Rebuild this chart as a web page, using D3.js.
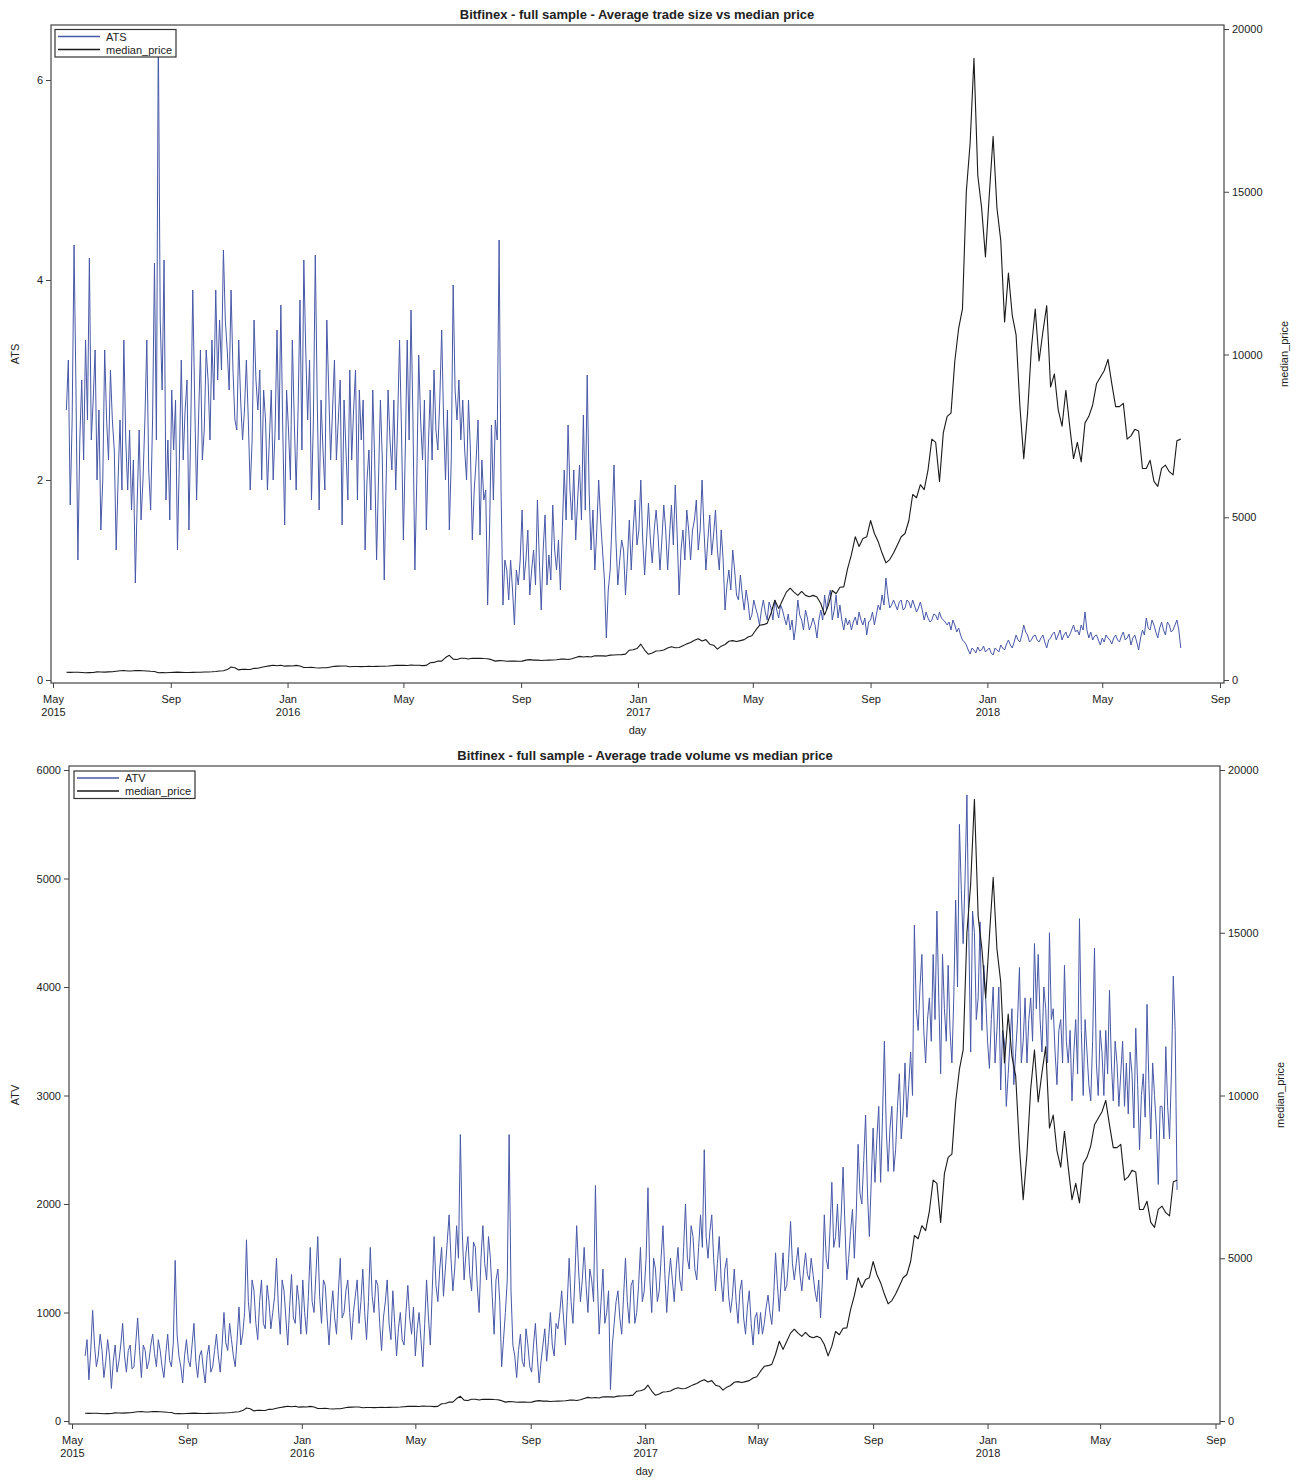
<!DOCTYPE html>
<html><head><meta charset="utf-8">
<script src="https://cdn.jsdelivr.net/npm/d3@7"></script>
<style>
body{margin:0;background:#fff}
svg{display:block}
text{font-family:"Liberation Sans",Arial,sans-serif;fill:#222}
</style>
</head><body>
<svg id="c" width="1298" height="1480"></svg>
<script>
// ---- data ----
const startDate = "2015-05-15";
const tradeStepDays = 2;   // ATS / ATV sampled every 2nd day
const priceStepDays = 4;   // median price sampled every 4th day

const ats = [
 2.7,3.2,1.75,2.6,4.35,2.9,1.2,2.4,3.0,2.2,3.4,2.6,4.22,2.4,2.8,3.3,2.0,2.7,1.5,2.0,
 3.3,2.6,2.2,3.1,2.6,2.3,1.3,2.0,2.6,1.9,3.4,2.4,1.9,2.5,1.7,2.2,0.97,1.8,2.5,1.6,
 2.0,2.6,3.4,2.1,1.7,2.6,4.17,2.4,6.5,3.6,2.9,4.2,1.8,2.4,1.6,2.9,2.3,2.8,1.3,2.2,
 3.2,2.2,2.7,3.0,1.5,2.6,3.9,2.8,1.8,2.6,3.3,2.2,2.5,3.3,3.0,2.4,3.4,2.8,3.9,3.0,
 3.6,3.1,4.3,3.6,3.3,2.9,3.9,3.1,2.6,2.5,3.4,2.8,2.4,2.7,3.2,2.6,1.9,2.4,3.6,3.0,
 2.7,3.1,2.0,2.9,2.6,1.9,2.4,2.9,2.0,2.5,3.5,2.4,3.75,2.5,1.55,2.9,2.5,2.0,3.4,2.6,
 1.9,2.7,3.8,2.3,4.2,3.3,2.6,3.2,1.8,2.6,4.25,2.8,1.7,2.8,2.3,1.9,3.6,2.9,2.2,2.7,
 3.2,2.2,2.6,3.0,1.55,2.8,2.3,1.8,3.1,2.2,2.7,3.1,1.8,2.9,2.4,2.8,1.3,2.0,2.3,1.7,
 2.9,2.2,1.2,2.0,2.8,2.2,1.0,2.0,2.9,2.4,2.1,2.8,1.9,2.6,3.4,2.5,1.4,2.3,3.4,2.4,
 3.7,2.6,1.1,2.0,3.25,2.6,2.2,2.8,1.5,2.3,2.9,2.2,3.1,2.5,2.3,2.8,3.5,2.6,2.0,2.7,
 1.5,2.2,3.95,2.9,2.6,3.0,2.4,2.8,2.3,2.0,2.8,2.3,1.4,1.9,2.2,2.6,1.45,2.2,1.8,1.9,
 0.75,1.5,2.55,1.8,2.6,2.4,4.4,1.9,0.75,1.2,1.1,0.8,1.2,0.9,0.55,1.1,0.95,1.2,1.7,1.0,
 1.2,1.5,0.85,1.1,1.3,0.95,1.8,1.2,0.7,1.3,1.65,0.95,1.25,1.0,1.75,1.3,1.1,1.4,0.9,1.5,
 2.1,1.6,2.55,1.9,1.6,2.1,1.4,1.8,2.15,1.6,2.65,1.7,3.05,1.9,1.3,1.7,1.1,1.5,2.0,1.6,
 1.3,1.0,0.42,0.9,1.1,1.6,2.15,1.4,0.95,1.2,1.4,1.3,0.85,1.2,1.6,1.1,1.5,1.8,1.35,1.5,
 2.0,1.4,1.05,1.4,1.77,1.4,1.17,1.5,1.7,1.45,1.1,1.4,1.75,1.5,1.1,1.45,1.75,1.35,1.95,1.45,
 0.85,1.3,1.5,1.2,1.7,1.5,1.2,1.5,1.6,1.8,1.3,1.5,2.0,1.5,1.1,1.4,1.65,1.25,1.45,1.7,
 1.3,1.1,1.5,1.2,0.7,0.95,1.1,0.9,1.3,1.1,0.85,0.8,1.05,0.85,0.7,0.9,0.78,0.6,0.65,0.8,
 0.72,0.65,0.55,0.7,0.8,0.68,0.6,0.78,0.72,0.6,0.8,0.7,0.62,0.75,0.7,0.62,0.55,0.66,0.5,0.6,
 0.4,0.55,0.8,0.65,0.6,0.5,0.7,0.62,0.5,0.55,0.62,0.55,0.42,0.6,0.7,0.6,0.85,0.7,0.82,0.9,
 0.6,0.7,0.85,0.62,0.75,0.6,0.5,0.62,0.55,0.6,0.5,0.58,0.63,0.55,0.68,0.6,0.55,0.62,0.45,0.58,
 0.6,0.68,0.55,0.65,0.75,0.7,0.85,0.75,1.02,0.85,0.72,0.75,0.8,0.75,0.7,0.78,0.8,0.7,0.72,0.8,
 0.78,0.72,0.8,0.74,0.68,0.72,0.78,0.7,0.6,0.68,0.62,0.58,0.6,0.66,0.65,0.6,0.68,0.62,0.6,0.58,
 0.55,0.58,0.5,0.6,0.55,0.48,0.52,0.45,0.4,0.38,0.35,0.3,0.26,0.32,0.3,0.27,0.33,0.29,0.3,0.34,
 0.28,0.3,0.32,0.27,0.25,0.32,0.3,0.28,0.35,0.32,0.3,0.36,0.4,0.35,0.32,0.38,0.45,0.4,0.38,0.45,
 0.55,0.48,0.45,0.38,0.4,0.44,0.45,0.4,0.38,0.42,0.45,0.38,0.32,0.4,0.42,0.46,0.48,0.4,0.45,0.5,
 0.4,0.45,0.48,0.42,0.45,0.5,0.55,0.48,0.5,0.45,0.55,0.5,0.68,0.5,0.42,0.48,0.4,0.44,0.45,0.4,
 0.35,0.42,0.38,0.45,0.42,0.4,0.36,0.42,0.45,0.4,0.38,0.44,0.48,0.4,0.42,0.46,0.35,0.42,0.45,0.38,
 0.3,0.42,0.5,0.45,0.62,0.52,0.5,0.6,0.55,0.48,0.42,0.52,0.58,0.5,0.45,0.58,0.55,0.48,0.5,0.55,0.6,0.5,0.32
];

const atv = [
 600,750,380,650,1020,700,500,600,800,650,400,550,750,600,300,550,700,450,550,700,
 900,600,450,650,700,480,500,720,950,650,400,700,650,480,550,700,800,620,500,750,
 650,500,400,620,800,560,500,720,1480,800,600,500,350,600,750,560,500,700,900,550,
 400,600,650,480,350,600,700,450,500,650,800,600,450,700,1000,720,650,900,750,600,
 500,750,1050,700,800,1000,1670,1100,900,1300,1200,900,750,1100,1300,900,850,1250,1100,850,
 1000,1150,1500,1050,800,1300,1200,950,700,1050,1350,950,900,1250,1100,800,1300,1000,800,1150,
 1600,1100,1000,1350,1700,1150,900,1300,1250,950,700,1000,1200,950,800,1200,1500,950,1000,1200,
 1300,1000,750,1000,1150,1300,900,1100,1400,1000,750,1100,1600,1150,1000,1300,1250,900,650,950,
 1100,1300,900,750,1200,900,600,850,1000,750,700,1000,1250,950,800,1050,600,850,1000,750,
 500,900,1300,950,700,1200,1700,1250,1100,1400,1600,1150,1400,1650,1900,1500,1200,1400,1800,1500,
 2640,1750,1300,1550,1700,1350,1200,1650,1600,1250,1000,1500,1800,1450,1300,1700,1500,1150,800,1300,
 1400,1100,500,750,1000,1300,2640,1200,700,600,400,650,800,550,500,850,700,500,450,700,
 900,600,350,550,700,850,550,750,1000,700,600,900,850,1000,1200,950,700,1100,1500,1100,
 900,1300,1800,1400,1100,1300,1600,1250,1000,1400,1300,1100,2170,1300,800,1100,1400,900,1000,1200,
 290,700,900,1100,1200,950,800,1150,1500,1100,900,1250,1300,900,1000,1250,1600,1100,1200,1500,
 2150,1300,1000,1500,1400,1100,1200,1500,1800,1350,1000,1300,1500,1300,1100,1400,1600,1300,1200,1600,
 2000,1500,1400,1800,1700,1400,1300,1600,1900,1600,2500,1700,1500,1750,1900,1500,1200,1450,1700,1300,
 1100,1400,1500,1150,1000,1150,1400,1100,900,1200,1300,950,800,1050,1200,900,700,950,1000,800,
 1000,800,900,1050,1160,1000,890,1150,1550,1250,1010,1300,1550,1200,1250,1500,1840,1450,1300,1450,
 1600,1350,1200,1400,1550,1350,1300,1500,1350,1200,1100,1300,950,1300,1900,1500,1400,1750,2200,1600,
 1700,2000,1600,1900,2340,1800,1300,1500,1750,1950,1500,1900,2550,2100,2000,2400,2820,2100,1700,2200,
 2700,2200,2600,2900,2200,2800,3500,2700,2300,2700,2900,2300,2500,2900,3200,2600,2850,3300,2800,3100,
 3400,3000,4570,3800,3600,4000,4300,3600,3300,3700,3900,3500,4300,3700,4700,3900,3200,4300,3800,3500,
 4200,3600,3300,3900,4800,4000,5500,4900,4400,5000,5770,4500,3400,4700,4500,3700,3900,4600,3600,4200,
 3900,3500,3250,3700,4000,3300,3600,4000,3050,3600,3500,2900,3200,3500,3800,3100,3400,3700,4180,3300,
 3500,3900,3300,3700,3900,3500,4400,3800,4300,3700,3400,4000,3800,3300,4500,3700,3800,3400,3100,3600,
 3700,3300,4200,3500,3300,3600,2950,3400,3700,3200,4630,3600,3000,3700,3400,3100,2950,3500,4360,3300,
 3000,3600,3400,3000,3600,3200,3970,3300,2950,3500,3300,2900,3200,3500,2900,3300,2830,3400,3200,2700,
 3620,3100,2500,3000,3200,2800,3840,3100,2600,3300,3000,2700,2180,2900,2900,2600,3450,2900,2600,3200,4100,3600,2130
];

const medianPrice = [
 237,233,240,237,230,225,228,230,250,245,
 242,250,255,270,285,290,278,277,292,288,
 282,278,268,262,225,230,225,230,235,242,
 235,230,232,234,238,237,246,245,252,262,
 275,285,320,400,375,310,330,325,323,358,
 362,390,415,435,455,438,455,425,433,430,
 448,430,385,385,392,378,370,375,378,400,
 420,425,432,430,405,413,415,410,415,418,
 415,420,421,422,428,440,450,455,450,447,
 460,455,455,443,450,530,540,585,580,690,
 760,640,630,670,670,645,670,665,670,660,
 655,625,580,595,590,575,582,580,575,580,
 610,625,612,610,598,605,610,613,620,640,
 645,630,655,690,725,705,720,705,745,740,
 740,735,765,770,775,780,795,915,930,965,
 1100,920,790,830,890,900,920,980,1020,990,
 1000,1050,1110,1150,1220,1270,1200,1240,1100,1070,
 950,1040,1090,1190,1210,1180,1210,1240,1320,1360,
 1530,1680,1700,1740,2050,2450,2200,2450,2700,2820,
 2700,2600,2720,2600,2560,2600,2550,2350,2000,2300,
 2750,2650,2850,2860,3420,3850,4400,4100,4350,4400,
 4900,4500,4250,3900,3600,3700,3900,4150,4400,4500,
 4900,5700,5600,6000,5850,6450,7400,7300,6100,7600,
 8100,8200,9800,10800,11400,15000,16500,19100,15500,14500,
 13000,14900,16700,14500,13500,11000,12500,11200,10600,8400,
 6800,8200,10200,11400,9800,10700,11500,9000,9400,8300,
 7800,8900,7800,6800,7300,6700,7900,8100,8450,9100,
 9300,9500,9850,9100,8400,8400,8500,7400,7500,7700,
 7650,6500,6500,6750,6100,5950,6500,6600,6400,6300,
 7350,7400
];

const xTickDates = ["2015-05-01","2015-09-01","2016-01-01","2016-05-01","2016-09-01",
  "2017-01-01","2017-05-01","2017-09-01","2018-01-01","2018-05-01","2018-09-01"];
const atsTicks = [0,2,4,6];
const atvTicks = [0,1000,2000,3000,4000,5000,6000];
const priceTicks = [0,5000,10000,15000,20000];

// ---- drawing ----
const parse = d3.utcParse("%Y-%m-%d");
const t0 = parse(startDate);
const dateAt = step => (d, i) => d3.utcDay.offset(t0, i * step);
const tickDates = xTickDates.map(parse);
const svg = d3.select("#c");
const BLUE = "#4858a8", BLACK = "#1a1a1a", FRAME = "#444";

function panel(cfg) {
  const g = svg.append("g");
  const f = cfg.frame;
  const x = d3.scaleUtc().domain([parse("2015-05-01"), parse("2018-09-01")]).range(cfg.xRange);
  const yL = d3.scaleLinear().domain(cfg.leftDomain).range(cfg.yRange);
  const yR = d3.scaleLinear().domain([0, 20000]).range(cfg.yRangeR);

  g.append("rect").attr("x", f.l).attr("y", f.t).attr("width", f.r - f.l).attr("height", f.b - f.t)
    .attr("fill", "none").attr("stroke", FRAME).attr("stroke-width", 1.2);

  const fmtMonth = d3.utcFormat("%b");
  const xa = g.append("g").attr("transform", `translate(0,${f.b})`)
    .call(d3.axisBottom(x).tickValues(tickDates).tickSize(5).tickPadding(7).tickFormat(fmtMonth));
  xa.selectAll("text").each(function(d, i) {
    if (i === 0 || d.getUTCMonth() === 0) {
      d3.select(this).append("tspan").attr("x", 0).attr("dy", "1.2em").text(d.getUTCFullYear());
    }
  });
  const yla = g.append("g").attr("transform", `translate(${f.l},0)`)
    .call(d3.axisLeft(yL).tickValues(cfg.leftTicks).tickSize(5).tickPadding(3).tickFormat(d3.format("d")));
  const yra = g.append("g").attr("transform", `translate(${f.r},0)`)
    .call(d3.axisRight(yR).tickValues(priceTicks).tickSize(5).tickPadding(3).tickFormat(d3.format("d")));
  [xa, yla, yra].forEach(a => {
    a.select(".domain").remove();
    a.selectAll(".tick line").attr("stroke", FRAME);
    a.selectAll("text").attr("font-size", 11).attr("fill", "#222")
      .attr("font-family", '"Liberation Sans",Arial,sans-serif');
  });

  const tx = dateAt(tradeStepDays), px = dateAt(priceStepDays);
  const lineL = d3.line().x((d, i) => x(tx(d, i))).y(d => yL(d));
  const lineR = d3.line().x((d, i) => x(px(d, i))).y(d => yR(d));
  g.append("path").datum(cfg.series).attr("d", lineL).attr("fill", "none")
    .attr("stroke", BLUE).attr("stroke-width", 1).attr("stroke-linejoin", "round");
  g.append("path").datum(medianPrice).attr("d", lineR).attr("fill", "none")
    .attr("stroke", BLACK).attr("stroke-width", 1.1).attr("stroke-linejoin", "round");

  g.append("text").attr("x", cfg.titleX).attr("y", f.t - 6).attr("text-anchor", "middle")
    .attr("font-size", 13).attr("font-weight", "bold").attr("fill", "#111").text(cfg.title);
  g.append("text").attr("transform", `translate(19,${(f.t + f.b) / 2}) rotate(-90)`)
    .attr("text-anchor", "middle").attr("font-size", 11).text(cfg.leftLabel);
  g.append("text").attr("transform", `translate(${cfg.rightLabelX},${(f.t + f.b) / 2}) rotate(-90)`)
    .attr("text-anchor", "middle").attr("font-size", 11).text("median_price");
  g.append("text").attr("x", (f.l + f.r) / 2).attr("y", f.b + 51).attr("text-anchor", "middle")
    .attr("font-size", 11).text("day");

  const L = cfg.legend;
  g.append("rect").attr("x", L.x).attr("y", L.y).attr("width", 121).attr("height", 27.5)
    .attr("fill", "#fff").attr("stroke", "#333").attr("stroke-width", 1.2);
  [[cfg.leftLabel, BLUE], ["median_price", BLACK]].forEach(([t, c], k) => {
    const yy = L.y + 7 + k * 13;
    g.append("line").attr("x1", L.x + 3).attr("x2", L.x + 45).attr("y1", yy).attr("y2", yy)
      .attr("stroke", c).attr("stroke-width", 1.3);
    g.append("text").attr("x", L.x + 51).attr("y", yy + 4).attr("font-size", 11).text(t);
  });
}

panel({
  frame: {l: 51, r: 1224, t: 25, b: 683},
  xRange: [53, 1220],
  leftDomain: [0, 6], yRange: [680, 80], yRangeR: [680, 29],
  leftTicks: atsTicks, series: ats, leftLabel: "ATS",
  title: "Bitfinex - full sample - Average trade size vs median price", titleX: 637,
  rightLabelX: 1288, legend: {x: 55, y: 29.5}
});
panel({
  frame: {l: 69, r: 1220, t: 766, b: 1424},
  xRange: [72, 1215.5],
  leftDomain: [0, 6000], yRange: [1421, 770], yRangeR: [1421, 770],
  leftTicks: atvTicks, series: atv, leftLabel: "ATV",
  title: "Bitfinex - full sample - Average trade volume vs median price", titleX: 645,
  rightLabelX: 1284, legend: {x: 74, y: 771}
});
</script>
</body></html>
